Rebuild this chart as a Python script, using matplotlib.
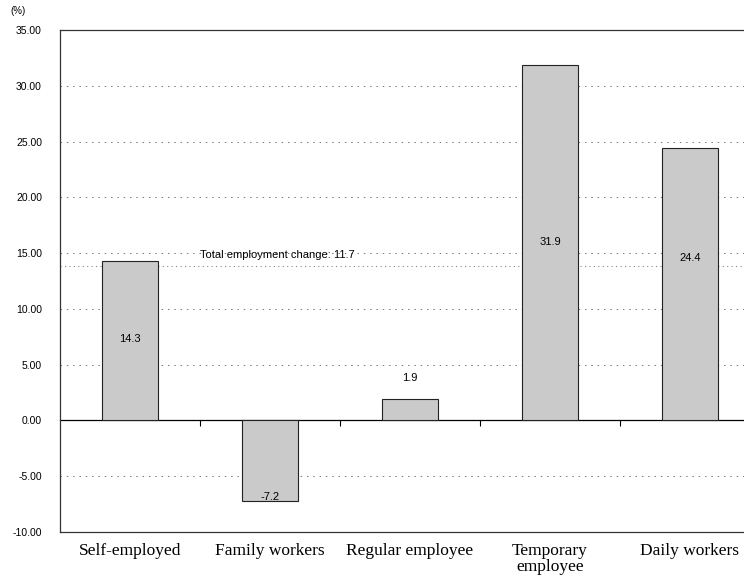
import matplotlib
matplotlib.use("Agg")
import matplotlib.pyplot as plt
import numpy as np

# categories and values
categories = ["Self-employed", "Family workers", "Regular employee", "Temporary\nemployee", "Daily workers"]
values = [14.3, -7.2, 1.9, 31.9, 24.4]
value_labels = ["14.3", "-7.2", "1.9", "31.9", "24.4"]
total_text = "Total employment change: 11.7"
total_line = 13.8   # where the dotted line sits in the picture
yticks = [-10, -5, 0, 5, 10, 15, 20, 25, 30, 35]

# label heights inside bars (layout)
label_y = [7.3, -6.9, 3.8, 16.0, 14.6]

fig = plt.figure(figsize=(7.44, 5.84), dpi=100)
ax = fig.add_axes([60/744, 1-532/584, 1-60/744, (532-30)/584])

x = np.arange(len(categories))
ax.bar(x, values, width=0.4, color="#cacaca", edgecolor="#222222", linewidth=0.8, zorder=3)

ax.set_ylim(-10, 35)
ax.set_xlim(-0.5, (744-60)/140 - 0.5)
ax.set_yticks(yticks)
ax.set_yticklabels(["%.2f" % t for t in yticks], fontsize=7.5, family="Liberation Sans")
ax.tick_params(axis="y", length=0, pad=13)

# sparse dotted grid lines
for t in yticks[1:-1]:
    if t == 0:
        continue
    ax.axhline(t, color="#777777", lw=0.7, ls=(0, (1.5, 5)), zorder=1)

ax.axhline(total_line, color="#888888", lw=0.8, ls=(0, (1, 3)), zorder=2)
ax.text(0.5, total_line + 0.55, total_text, fontsize=8, family="Liberation Sans", va="bottom", ha="left")

# category labels at the bottom
ax.set_xticks(x)
ax.set_xticklabels(categories, fontsize=12.5, family="Liberation Serif", linespacing=0.95)
ax.tick_params(axis="x", length=0, pad=8)

# zero axis with tick marks between categories
sec = ax.secondary_xaxis(10/45)
sec.set_xticks(x[:-1] + 0.5)
sec.set_xticklabels([])
sec.tick_params(length=4, width=0.8, direction="out")
sec.spines["bottom"].set_linewidth(0.9)

for xi, ly, lab in zip(x, label_y, value_labels):
    ax.text(xi, ly, lab, ha="center", va="center", fontsize=8, family="Liberation Sans", zorder=4)

ax.spines["right"].set_visible(False)
for s in ["left", "top", "bottom"]:
    ax.spines[s].set_linewidth(0.9)
    ax.spines[s].set_color("#333333")

fig.text(10/744, 1-11/584, "(%)", fontsize=7, family="Liberation Sans", va="center")

fig.savefig("out.png", dpi=100)
